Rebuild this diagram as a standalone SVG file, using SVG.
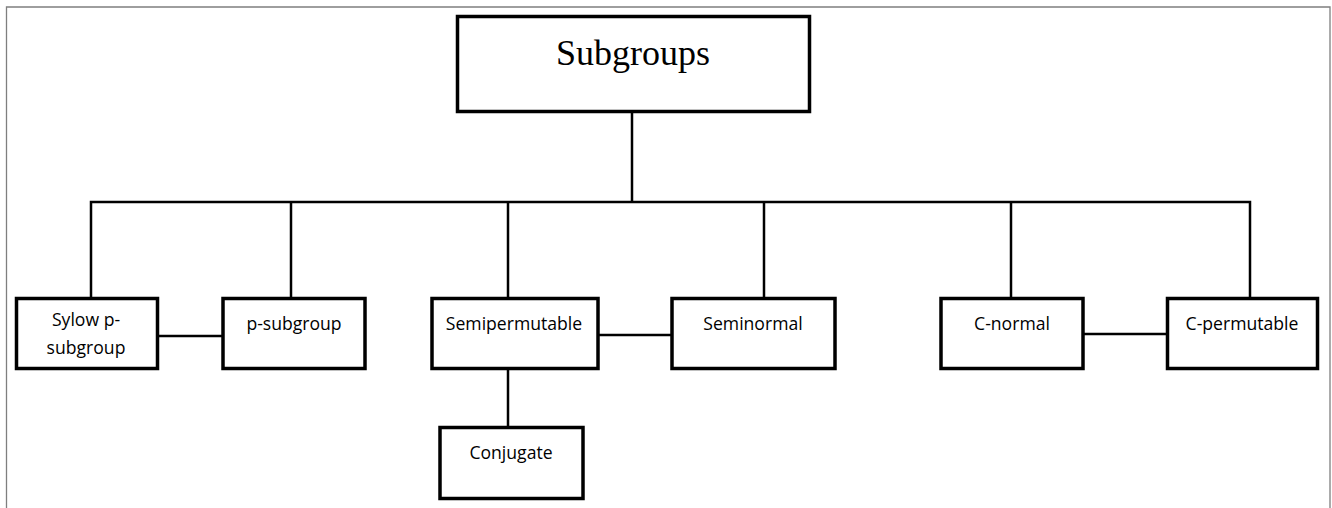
<svg xmlns="http://www.w3.org/2000/svg" width="1332" height="508" viewBox="0 0 1332 508">
<style>
.frame{fill:none;stroke:#7f7f7f;stroke-width:1.3}
.box{fill:#fff;stroke:#000;stroke-width:3.5}
.ln{fill:none;stroke:#000;stroke-width:2.5}
.t{font-family:"Open Sans","Liberation Sans",sans-serif;font-size:17.6px;fill:#000;text-anchor:middle}
.title{font-family:"Liberation Serif","Times New Roman",serif;font-size:36px;fill:#000;text-anchor:middle}
</style>
<rect width="1332" height="508" fill="#fff"/>
<path class="frame" d="M6.5,520 V7 H1330 V520"/>
<g id="connectors">
<path class="ln" d="M632,113 V202"/>
<path class="ln" d="M91,298 V202 H1250 V298"/>
<path class="ln" d="M291,202 V298"/>
<path class="ln" d="M508,202 V298"/>
<path class="ln" d="M764,202 V298"/>
<path class="ln" d="M1011,202 V298"/>
<path class="ln" d="M158,336 H222"/>
<path class="ln" d="M599,335 H671"/>
<path class="ln" d="M1084,334 H1167"/>
<path class="ln" d="M508,369 V427"/>
</g>
<g id="subgroups">
<rect class="box" x="457.5" y="16.5" width="352" height="95"/>
<text class="title" x="633" y="65">Subgroups</text>
</g>
<g id="sylow">
<rect class="box" x="16.5" y="298.5" width="141" height="70"/>
<text class="t" x="86" y="326">Sylow p-</text>
<text class="t" x="86" y="354">subgroup</text>
</g>
<g id="psubgroup">
<rect class="box" x="223" y="298.5" width="142" height="70"/>
<text class="t" x="294" y="330">p-subgroup</text>
</g>
<g id="semipermutable">
<rect class="box" x="432" y="298.5" width="166" height="70"/>
<text class="t" x="514" y="330">Semipermutable</text>
</g>
<g id="seminormal">
<rect class="box" x="672" y="298.5" width="163" height="70"/>
<text class="t" x="753" y="330">Seminormal</text>
</g>
<g id="cnormal">
<rect class="box" x="941" y="298.5" width="142" height="70"/>
<text class="t" x="1012" y="330">C-normal</text>
</g>
<g id="cpermutable">
<rect class="box" x="1167.5" y="298.5" width="150" height="70"/>
<text class="t" x="1242" y="330">C-permutable</text>
</g>
<g id="conjugate">
<rect class="box" x="440" y="427.5" width="143" height="71"/>
<text class="t" x="511" y="459">Conjugate</text>
</g>
</svg>
